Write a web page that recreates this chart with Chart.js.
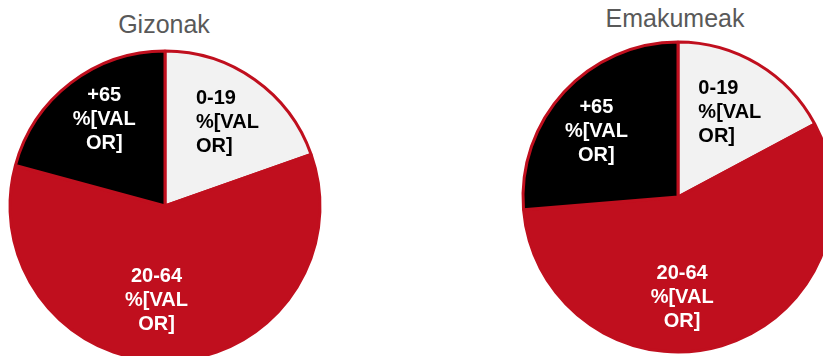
<!DOCTYPE html>
<html>
<head>
<meta charset="utf-8">
<script src="https://cdn.jsdelivr.net/npm/chart.js@4/dist/chart.umd.min.js"></script>
<style>
  html, body { margin: 0; padding: 0; background: #fff; overflow: hidden; width: 823px; height: 356px; }
  .wrap { position: absolute; width: 330px; height: 330px; }
  .title { position: absolute; font-family: "Liberation Sans", Arial, sans-serif; font-size: 25px; color: #595959; transform: translateX(-50%); white-space: nowrap; line-height: 1; }
</style>
</head>
<body>
<div class="title" style="left:164px; top:12px;">Gizonak</div>
<div class="title" style="left:675px; top:6px;">Emakumeak</div>
<div class="wrap" style="left:0px; top:41px;"><canvas id="chart1"></canvas></div>
<div class="wrap" style="left:513px; top:32px;"><canvas id="chart2"></canvas></div>
<script>
// age groups, same for both pies
const categories = ['0-19', '20-64', '+65'];
const sliceLabels = ['0-19\n%[VAL\nOR]', '20-64\n%[VAL\nOR]', '+65\n%[VAL\nOR]'];

// shares (%)
const gizonakValues = [19.6, 59.6, 20.8];
const emakumeakValues = [17.2, 56.5, 26.3];

const sliceColors = ['#F2F2F2', '#C00F1E', '#000000'];
const textColors = ['#000000', '#FFFFFF', '#FFFFFF'];
const textAlign = ['left', 'center', 'center'];

// draws the multi-line slice labels inside the arcs
const sliceLabelPlugin = {
  id: 'sliceLabels',
  afterDatasetsDraw(chart, args, opts) {
    const ctx = chart.ctx;
    const meta = chart.getDatasetMeta(0);
    ctx.save();
    ctx.font = 'bold 20px "Liberation Sans", Arial, sans-serif';
    ctx.textBaseline = 'alphabetic';
    meta.data.forEach((arc, i) => {
      const p = arc.getProps(['x', 'y', 'startAngle', 'endAngle', 'outerRadius'], true);
      const a = (p.startAngle + p.endAngle) / 2 + opts.shift[i] * Math.PI / 180;
      const r = p.outerRadius * opts.frac[i];
      const cx = p.x + Math.cos(a) * r;
      const cy = p.y + Math.sin(a) * r;
      const lines = sliceLabels[i].split('\n');
      const maxW = Math.max(...lines.map(l => ctx.measureText(l).width));
      ctx.fillStyle = textColors[i];
      ctx.textAlign = textAlign[i];
      const x = textAlign[i] === 'left' ? cx - maxW / 2 : cx;
      lines.forEach((line, j) => {
        ctx.fillText(line, x, cy + 7 + (j - 1) * 24);
      });
    });
    ctx.restore();
  }
};

function drawPie(id, data, frac, shift) {
  const config = {
    type: 'pie',
    data: {
      labels: categories,
      datasets: [{
        data: data,
        backgroundColor: sliceColors,
        borderColor: '#C00F1E',
        borderWidth: 3
      }]
    },
    options: {
      responsive: false,
      animation: false,
      radius: 155,
      layout: { padding: 0 },
      plugins: {
        legend: { display: false },
        tooltip: { enabled: false },
        sliceLabels: { frac: frac, shift: shift }
      }
    },
    plugins: [sliceLabelPlugin]
  };
  const canvas = document.getElementById(id);
  canvas.width = 330;
  canvas.height = 330;
  new Chart(canvas, config);
}

drawPie('chart1', gizonakValues, [0.68, 0.6, 0.69], [1, 7.4, 2.8]);
drawPie('chart2', emakumeakValues, [0.65, 0.64, 0.68], [0, 14, -3.4]);
</script>
</body>
</html>
